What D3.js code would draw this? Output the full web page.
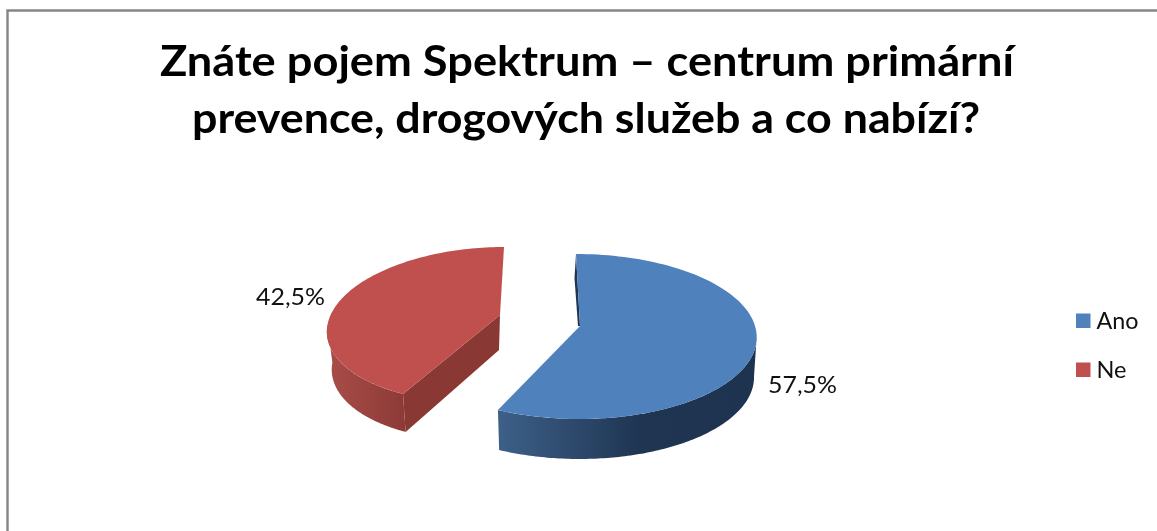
<!DOCTYPE html>
<html><head><meta charset="utf-8">
<script src="https://cdn.jsdelivr.net/npm/d3@7"></script>
<style>html,body{margin:0;padding:0;background:#fff;overflow:hidden}svg{display:block;filter:blur(0.55px)}</style>
</head><body><svg id="c" width="1157" height="531"></svg>
<script>
const titleLines = ["Znáte pojem Spektrum – centrum primární", "prevence, drogových služeb a co nabízí?"];
const categories = ["Ano", "Ne"];
const values = [57.5, 42.5];
const valueLabels = ["57,5%", "42,5%"];
const topColors = ["#4f81bd", "#c0504d"];

const svg = d3.select("#c");
const defs = svg.append("defs");

const lin = (id, x1, x2, stops) => {
  const g = defs.append("linearGradient").attr("id", id).attr("gradientUnits", "userSpaceOnUse")
    .attr("x1", x1).attr("x2", x2).attr("y1", 0).attr("y2", 0);
  stops.forEach(s => g.append("stop").attr("offset", s[0]).attr("stop-color", s[1]));
};
lin("wallA", 498, 757, [[0, "#3d6089"], [0.55, "#1f3552"], [1, "#1e3350"]]);
lin("wallB", 330, 407, [[0, "#a84c49"], [1, "#8c3a36"]]);

// slice geometry: projected, exploded wedge layouts
const geo = [
  {cx: 577.7, cy: 336.5, rx: 179, ry: 82.5, shear: 1.7, apex: [580, 326], depth: 40, inner: 0, k: 0.985, wall: "url(#wallA)"},
  {cx: 489.5, cy: 324.7, rx: 162, ry: 77.7, shear: -14.5, apex: [500, 315], depth: 38, inner: 35, k: 0.97, wall: "url(#wallB)"}
];

const arcs = d3.pie().sort(null).value(d => d)(values);
const rim = (g, a, dy = 0, k = 1) => [
  g.cx + k * (g.rx * Math.sin(a) - g.shear * Math.cos(a)),
  g.cy - g.ry * Math.cos(a) + dy
];
const line = d3.line();
const samples = (a0, a1) => d3.range(0, 121).map(i => a0 + (a1 - a0) * i / 120);
const frontStart = Math.PI / 2, frontEnd = 3 * Math.PI / 2;

// frame
svg.append("path").attr("d", "M7.5 531V10.5H1157").attr("fill", "none").attr("stroke", "#868686").attr("stroke-width", 2.4);

// title
const title = svg.append("g").attr("font-family", "Lato").attr("font-weight", 700).attr("font-size", 42).attr("fill", "#000");
title.selectAll("text").data(titleLines).join("text")
  .attr("x", (d, i) => [160, 192][i]).attr("y", (d, i) => [76, 132.5][i])
  .attr("textLength", (d, i) => [854, 788][i]).attr("lengthAdjust", "spacingAndGlyphs").text(d => d);

// slices
arcs.forEach((d, i) => {
  const g = geo[i];
  const a0 = d.startAngle, a1 = d.endAngle;
  const p = svg.append("g");
  const f0 = Math.max(a0, frontStart), f1 = Math.min(a1, frontEnd);
  const topPts = samples(f0, f1).map(a => rim(g, a));
  const botPts = samples(f0, f1).map(a => rim(g, a, g.depth, g.k)).reverse();
  if (g.inner) {
    p.append("path").attr("fill", "#8a3833").attr("d", line([
      g.apex, [g.apex[0] - 1, g.apex[1] + g.inner], rim(g, a0, g.depth, g.k), rim(g, a0)
    ]));
  } else {
    const r1 = rim(g, a0);
    p.append("path").attr("fill", "#1f3552").attr("d", line([
      r1, [r1[0] - 1.5, r1[1] + 24], [g.apex[0] - 2, g.apex[1]], g.apex
    ]));
  }
  p.append("path").attr("fill", g.wall).attr("d", line(topPts.concat(botPts)) + "Z");
  const top = [g.apex].concat(samples(a0, a1).map(a => rim(g, a)));
  p.append("path").attr("fill", topColors[i]).attr("d", line(top) + "Z");
});

// data labels
const lab = svg.append("g").attr("font-family", "Lato").attr("font-size", 23).attr("fill", "#111");
lab.selectAll("text").data(categories).join("text")
  .attr("x", (d, i) => [768, 256][i]).attr("y", (d, i) => [392.5, 304.5][i])
  .attr("textLength", 69).attr("lengthAdjust", "spacingAndGlyphs").text((d, i) => valueLabels[i]);

// legend
const leg = svg.append("g").selectAll("g").data(categories).join("g")
  .attr("transform", (d, i) => `translate(1076,${313.5 + i * 49})`);
leg.append("rect").attr("width", 14.5).attr("height", 14.5).attr("fill", (d, i) => topColors[i]);
leg.append("text").attr("x", 20.5).attr("y", 15).attr("font-family", "Lato").attr("font-size", 23).attr("fill", "#111")
  .attr("textLength", (d, i) => [42, 30][i]).attr("lengthAdjust", "spacingAndGlyphs").text(d => d);
</script></body></html>
